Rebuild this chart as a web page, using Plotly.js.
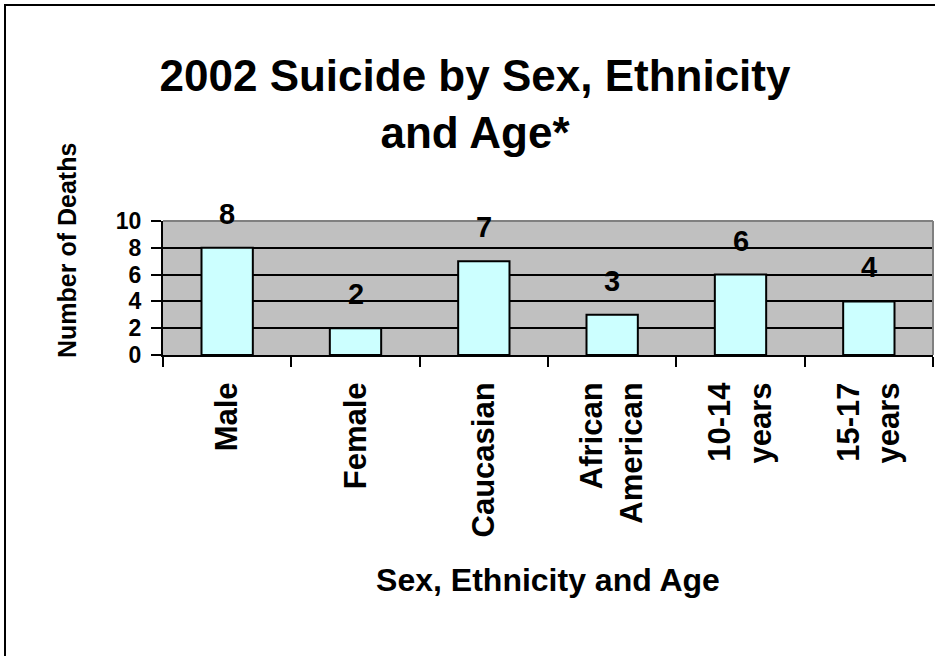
<!DOCTYPE html>
<html>
<head>
<meta charset="utf-8">
<script src="https://cdn.plot.ly/plotly-3.0.1.min.js"></script>
<style>
  html, body { margin: 0; padding: 0; background: #fff; }
  #chart { width: 935px; height: 656px; }
</style>
</head>
<body>
<div id="chart"></div>
<script>
const categories = ['Male', 'Female', 'Caucasian', 'African<br>American', '10-14<br>years', '15-17<br>years'];
const deaths = [8, 2, 7, 3, 6, 4];
const yTicks = [0, 2, 4, 6, 8, 10];

const FAM = '"Liberation Sans", Arial, Helvetica, sans-serif';

const W = 935, H = 656;
const M = { l: 163, r: 2, t: 221, b: 301 };
const pw = W - M.l - M.r, ph = H - M.t - M.b;
const px = x => (x - M.l) / pw;
const py = y => (H - M.b - y) / ph;

const trace = {
  type: 'bar',
  x: categories,
  y: deaths,
  marker: { color: '#CCFFFF', line: { color: '#000000', width: 2 } },
  hoverinfo: 'x+y'
};

const labelAnnots = categories.map((c, i) => ({
  x: c, y: deaths[i], xref: 'x', yref: 'y',
  text: String(deaths[i]), showarrow: false,
  yanchor: 'middle', yshift: 34,
  font: { family: FAM, size: 29, color: '#000', weight: 'bold' }
}));

const layout = {
  width: W, height: H,
  margin: M,
  paper_bgcolor: '#FFFFFF',
  plot_bgcolor: '#C0C0C0',
  showlegend: false,
  bargap: 0.6,
  font: { family: FAM, color: '#000', weight: 'bold' },
  title: {
    text: '2002 Suicide by Sex, Ethnicity<br>and Age*',
    x: 475 / W, xanchor: 'center',
    y: 1 - 91 / H, yanchor: 'middle',
    font: { family: FAM, size: 44, color: '#000', weight: 'bold' }
  },
  xaxis: {
    type: 'category',
    tickangle: -90,
    tickson: 'boundaries',
    ticks: 'outside', ticklen: 10, tickwidth: 2, tickcolor: '#000',
    ticklabelstandoff: 13,
    showline: true, linecolor: '#000', linewidth: 2,
    showgrid: false, zeroline: false,
    automargin: false,
    tickfont: { family: FAM, size: 31, color: '#000', weight: 'bold' },
    title: {
      text: 'Sex, Ethnicity and Age',
      standoff: 32,
      font: { family: FAM, size: 32, color: '#000', weight: 'bold' }
    }
  },
  yaxis: {
    range: [0, 10],
    tickvals: yTicks,
    ticktext: yTicks.map(String),
    ticks: 'outside', ticklen: 10, tickwidth: 2, tickcolor: '#000',
    ticklabelstandoff: 5,
    showline: true, linecolor: '#000', linewidth: 2,
    showgrid: true, gridcolor: '#000', gridwidth: 2,
    zeroline: false,
    automargin: false,
    fixedrange: true,
    tickfont: { family: FAM, size: 23, color: '#000', weight: 'bold' }
  },
  shapes: [
    { type: 'line', xref: 'paper', yref: 'paper', x0: 0, x1: 1, y0: 1, y1: 1,
      line: { color: '#808080', width: 2 }, layer: 'above' },
    { type: 'line', xref: 'paper', yref: 'paper', x0: 1, x1: 1, y0: 0, y1: 1,
      line: { color: '#808080', width: 2 }, layer: 'above' },
    { type: 'rect', xref: 'paper', yref: 'paper',
      x0: px(5), x1: px(945), y0: py(666), y1: py(5),
      line: { color: '#000', width: 2 }, fillcolor: 'rgba(0,0,0,0)', layer: 'above' }
  ],
  annotations: labelAnnots.concat([{
    xref: 'paper', yref: 'paper',
    x: px(67), y: py(251), xanchor: 'center', yanchor: 'middle',
    text: 'Number of Deaths', textangle: -90, showarrow: false,
    font: { family: FAM, size: 25, color: '#000', weight: 'bold' }
  }])
};

Plotly.newPlot('chart', [trace], layout, { staticPlot: true, displayModeBar: false });
</script>
</body>
</html>
